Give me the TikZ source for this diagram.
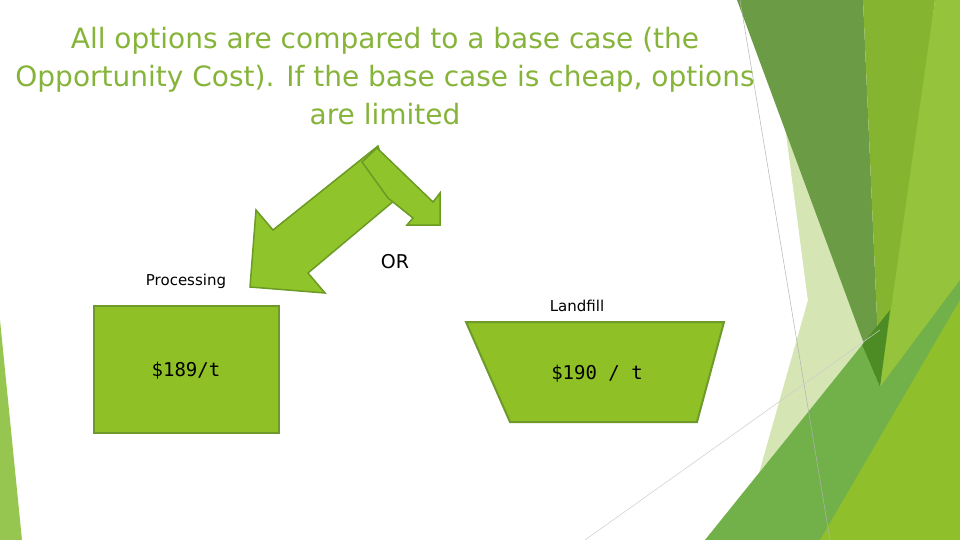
\documentclass[tikz,border=0pt]{standalone}
\usepackage{fontspec}
\setmainfont{DejaVu Sans}
\newfontfamily\monof{DejaVu Sans Mono}
\begin{document}
\begin{tikzpicture}[x=1pt,y=-1pt,
  boxst/.style={fill=boxg,draw=boxb,line width=2pt},
  arr/.style={fill=arrg,draw=arrb,line width=1.5pt,line join=miter},
  lbl/.style={font=\fontsize{15}{17}\selectfont}]
\definecolor{boxg}{HTML}{8FC026}
\definecolor{boxb}{HTML}{6E9A2C}
\definecolor{arrg}{HTML}{8FC52A}
\definecolor{arrb}{HTML}{6B9A25}
\definecolor{titc}{HTML}{86B43A}
\useasboundingbox (0,0) rectangle (960,540);
% background decoration
\fill[color={rgb,255:red,213;green,230;blue,180}] (785,125) -- (808,300) -- (740,540) -- (705,540) -- (862,345) -- (880,387) -- cycle;
\fill[color={rgb,255:red,213;green,230;blue,180}] (785,125) -- (808,300) -- (862,345) -- cycle;
\fill[color={rgb,255:red,107;green,155;blue,69}] (737,0) -- (863,0) -- (880,387) -- cycle;
\fill[color={rgb,255:red,133;green,181;blue,48}] (863,0) -- (935,0) -- (905,240) -- (880,387) -- cycle;
\fill[color={rgb,255:red,149;green,196;blue,60}] (935,0) -- (960,0) -- (960,540) -- (900,540) -- (880,387) -- cycle;
\fill[color={rgb,255:red,114;green,176;blue,74}] (705,540) -- (862,345) -- (880,387) -- (960,280) -- (960,540) -- cycle;
\fill[color={rgb,255:red,77;green,140;blue,36}] (862,345) -- (890,310) -- (880,387) -- cycle;
\fill[color={rgb,255:red,143;green,192;blue,44}] (820,540) -- (960,300) -- (960,540) -- cycle;
\fill[color={rgb,255:red,150;green,198;blue,80}] (0,320) -- (22,540) -- (0,540) -- cycle;
\draw[gray!60,line width=0.5pt] (740,0) -- (830,540);
\draw[gray!40,line width=0.5pt] (585,540) -- (880,330);
% title
\node[text=titc,align=center,font=\fontsize{28}{38}\selectfont] (title) at (385,76)
  {All options are compared to a base case (the\\Opportunity Cost). If the base case is cheap, options\\are limited};
% arrows
\draw[arr] (378,146) -- (273,230) -- (256,210) -- (250,287) -- (325,293) -- (308,273) -- (395,200) -- cycle;
\draw[arr] (362,162) -- (377,148) -- (433,202) -- (440,193) -- (440,225) -- (407,225) -- (413,218) -- (388,198) -- cycle;
% boxes
\draw[boxst] (94,306) rectangle (279,433);
\node[font=\monof\fontsize{19}{22}\selectfont] (p) at (186,371) {\$189/t};
\draw[boxst] (466,322) -- (724,322) -- (697,422) -- (510,422) -- cycle;
\node[font=\monof\fontsize{19}{22}\selectfont] (l) at (597,374) {\$190 / t};
\node[lbl] (pl) at (186,281) {Processing};
\node[lbl] (ll) at (577,306) {Landfill};
\node[font=\fontsize{19}{22}\selectfont] (or) at (395,262) {OR};
\end{tikzpicture}
\end{document}
